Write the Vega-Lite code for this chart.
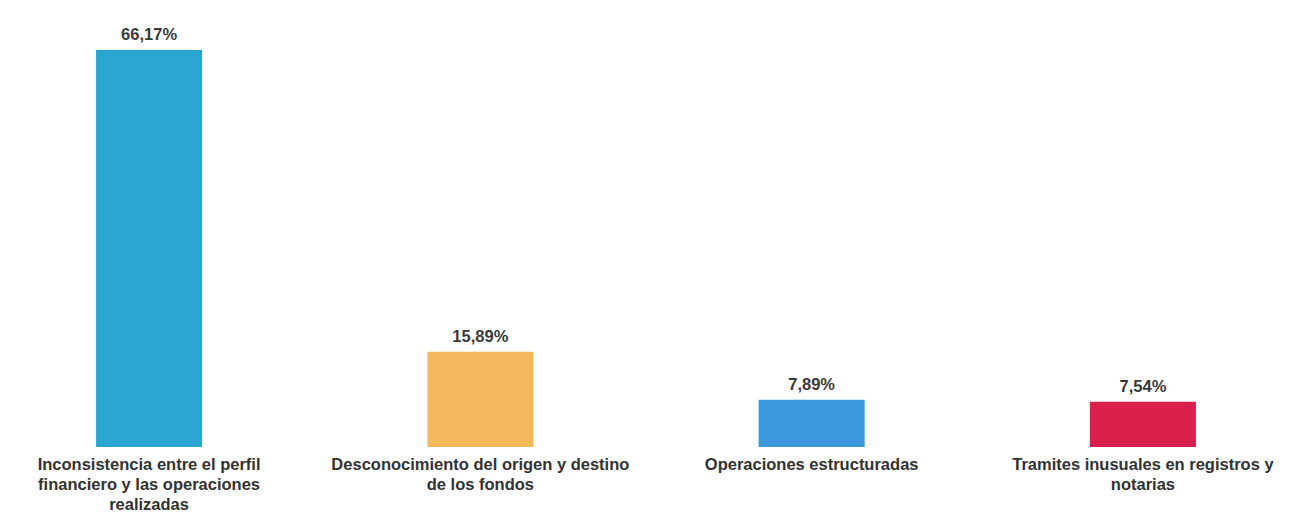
{
  "$schema": "https://vega.github.io/schema/vega-lite/v6.json",
  "autosize": {"type": "none"},
  "width": 1292,
  "height": 447,
  "padding": {"left": 0, "top": 0, "right": 0, "bottom": 75},
  "background": "white",
  "config": {
    "locale": {"number": {"decimal": ",", "thousands": ".", "grouping": [3], "currency": ["", " €"]}},
    "view": {"stroke": null},
    "font": "Liberation Sans"
  },
  "data": {
    "values": [
      {"categoria": "Inconsistencia entre el perfil|financiero y las operaciones|realizadas", "valor": 0.6617, "color": "#2aa7d1"},
      {"categoria": "Desconocimiento del origen y destino|de los fondos", "valor": 0.1589, "color": "#f5b85c"},
      {"categoria": "Operaciones estructuradas", "valor": 0.0789, "color": "#3b98dd"},
      {"categoria": "Tramites inusuales en registros y|notarias", "valor": 0.0754, "color": "#d91f4c"}
    ]
  },
  "encoding": {
    "x": {
      "field": "categoria",
      "type": "nominal",
      "sort": null,
      "scale": {"paddingInner": 0.68, "paddingOuter": 0.29},
      "axis": {
        "title": null,
        "domain": false,
        "ticks": false,
        "labelAngle": 0,
        "labelPadding": 9,
        "labelFontSize": 16.5,
        "labelFontWeight": "bold",
        "labelLineHeight": 20,
        "labelColor": "#333333",
        "labelLimit": 0,
        "labelExpr": "split(datum.label, '|')"
      }
    },
    "y": {
      "field": "valor",
      "type": "quantitative",
      "scale": {"domain": [0, 0.745]},
      "axis": null
    }
  },
  "layer": [
    {
      "mark": {"type": "bar"},
      "encoding": {"color": {"field": "color", "type": "nominal", "scale": null, "legend": null}}
    },
    {
      "mark": {"type": "text", "baseline": "bottom", "dy": -7, "fontSize": 16.5, "fontWeight": "bold", "color": "#3a3a3a"},
      "encoding": {"text": {"field": "valor", "type": "quantitative", "format": ".2%"}}
    }
  ]
}
